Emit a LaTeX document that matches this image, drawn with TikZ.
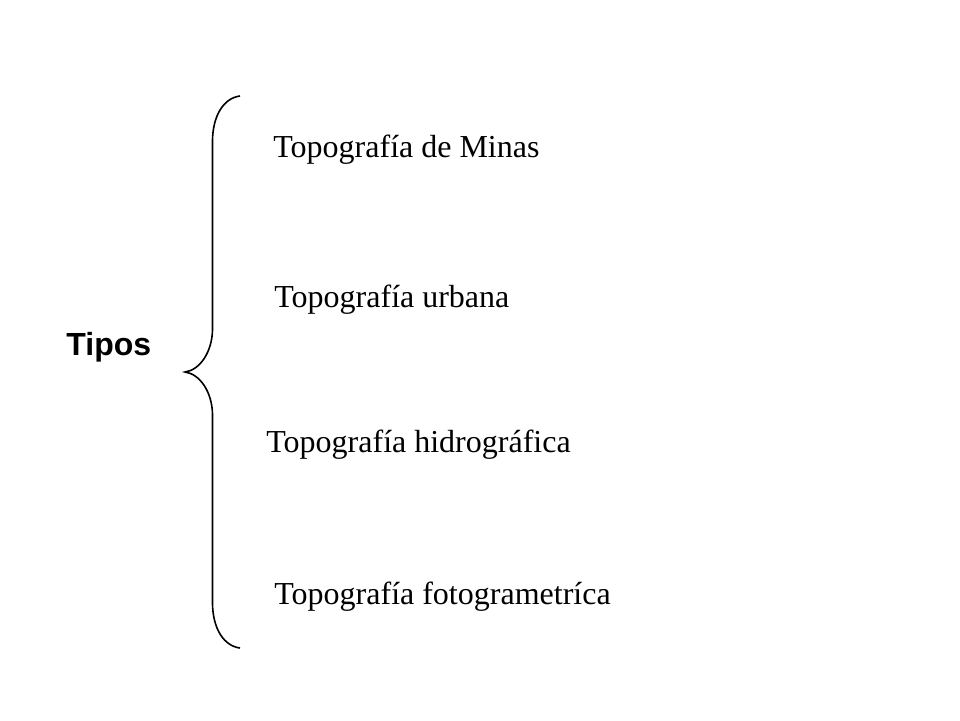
\documentclass[tikz,border=0pt]{standalone}
\usepackage{fontspec}
\setmainfont{Liberation Serif}
\newfontfamily\arialfont{Liberation Sans}
\begin{document}
\begin{tikzpicture}[x=0.5pt,y=-0.5pt, font=\fontsize{16}{19}\selectfont,
  tipo/.style={anchor=base west, inner sep=0pt},
  raiz/.style={anchor=base west, inner sep=0pt, font=\fontsize{16}{19}\selectfont\arialfont\bfseries}]
\useasboundingbox (0,0) rectangle (960,720);
\node[raiz] (tipos) at (66,355) {Tipos};
\node[tipo] (minas) at (273,157.5) {Topografía de Minas};
\node[tipo] (urbana) at (274,307) {Topografía urbana};
\node[tipo] (hidro) at (266,452) {Topografía hidrográfica};
\node[tipo] (foto) at (274,604) {Topografía fotogrametríca};
% llave
\coordinate (top) at (240,96);
\coordinate (tip) at (185,372);
\coordinate (bot) at (240,648);
\draw[line width=0.8pt] (top) .. controls (224,98) and (213,115) .. (212.5,140)
  -- (212.5,330) .. controls (212,352) and (200,370) .. (tip)
  .. controls (200,374) and (212,392) .. (212.5,414)
  -- (212.5,604) .. controls (213,629) and (224,646) .. (bot);
\end{tikzpicture}
\end{document}
